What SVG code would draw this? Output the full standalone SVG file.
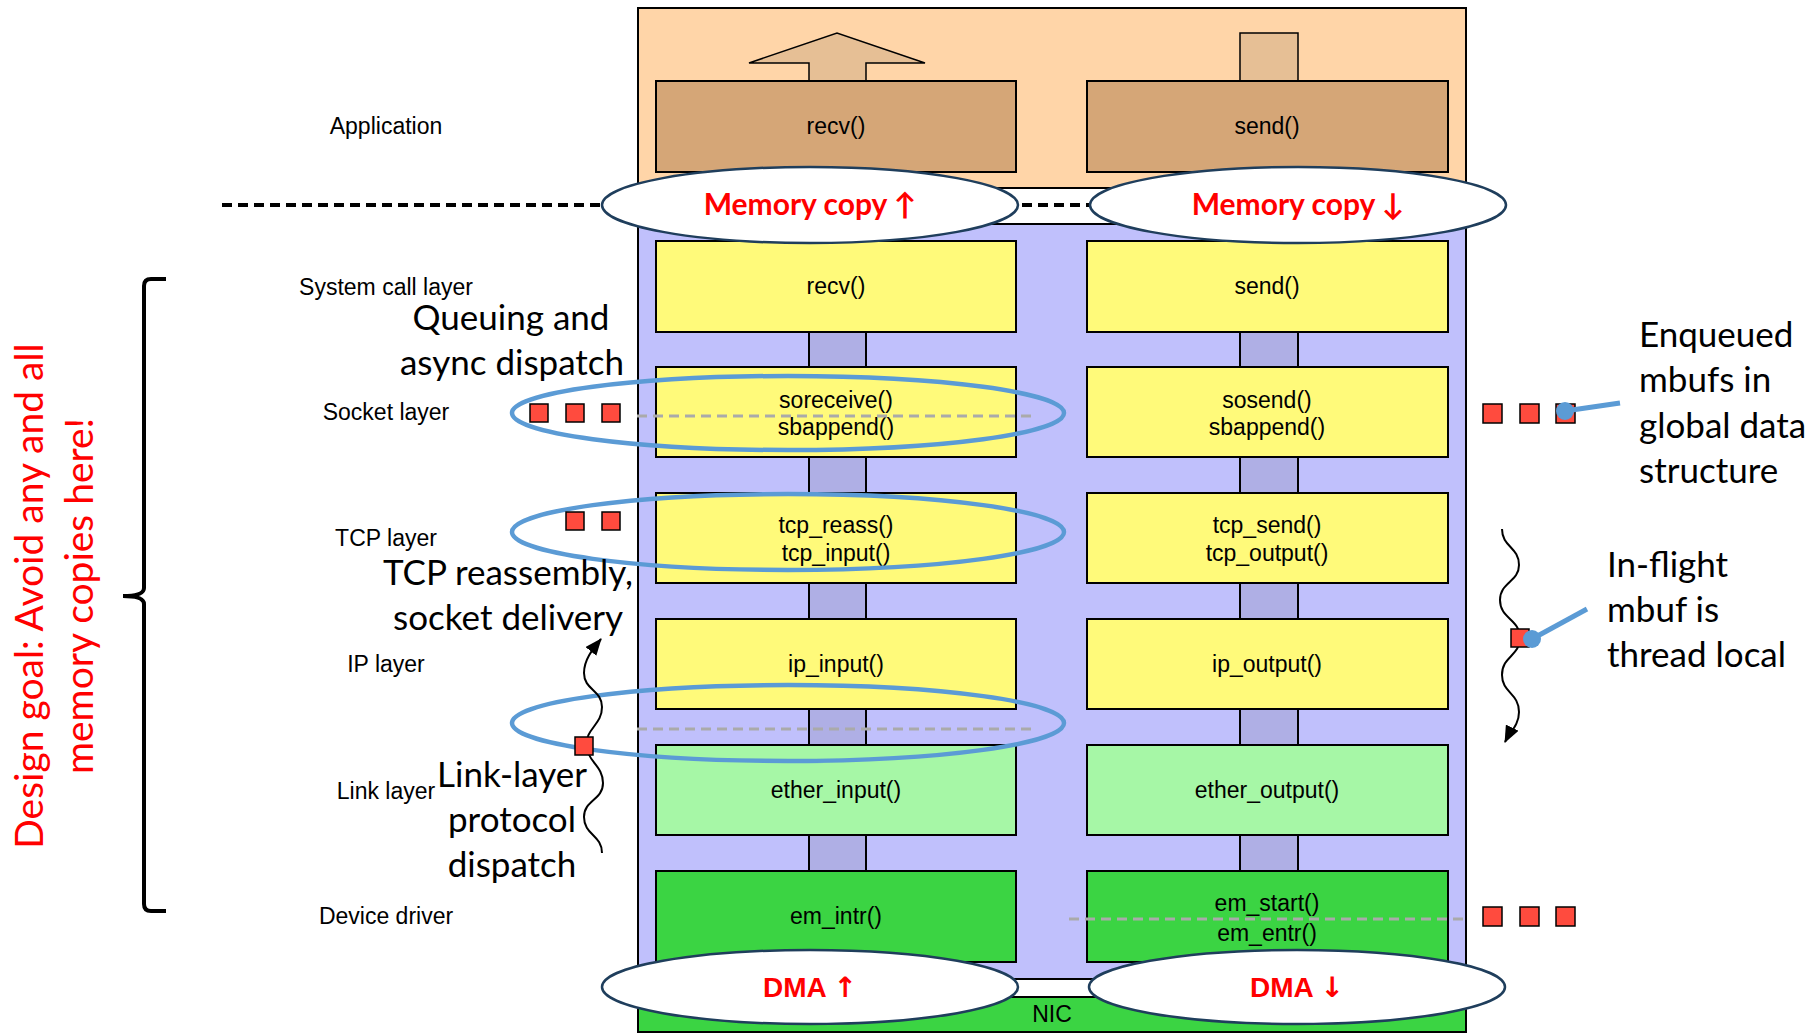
<svg xmlns="http://www.w3.org/2000/svg" width="1818" height="1034" viewBox="0 0 1818 1034">
<defs>
<style>
.frame{stroke:#000;stroke-width:2}
.box{stroke:#000;stroke-width:2}
.app{fill:#D5A677}
.yel{fill:#FFFA7A}
.lg{fill:#A6F7A6}
.dg{fill:#3BD443}
.bar{fill:#AFAFE5;stroke:#000;stroke-width:2}
.fn{font-family:"Liberation Sans",Arial,sans-serif;font-size:23px;fill:#000;text-anchor:middle}
.lay{font-family:"Liberation Sans",Arial,sans-serif;font-size:23px;fill:#000;text-anchor:middle}
.ann{font-family:Lato,"Open Sans",sans-serif;font-size:35px;fill:#000}
.mid{text-anchor:middle}
.copy{font-family:Lato,"DejaVu Sans",sans-serif;font-size:30px;font-weight:bold;fill:#FF0000;text-anchor:middle}
.dma{font-family:"Liberation Sans",Arial,"DejaVu Sans",sans-serif;font-size:28px;font-weight:bold;fill:#FF0000;text-anchor:middle}
.arr{font-family:"DejaVu Sans",sans-serif;font-weight:bold}
.oval{fill:#fff;stroke:#1F3E5C;stroke-width:2.5}
.blue{fill:none;stroke:#5B9BD5;stroke-width:4.5}
.sq{fill:#FF4B3E;stroke:#000;stroke-width:1.5}
.gdash{stroke:#AAAAAA;stroke-width:3;stroke-dasharray:10 6;fill:none}
.wave{fill:none;stroke:#000;stroke-width:2}
.pin{stroke:#5B9BD5;stroke-width:5;fill:none}
.goal{font-family:Lato,"Open Sans",sans-serif;font-size:39px;fill:#FF0000;text-anchor:middle}
</style>
<marker id="ah" markerUnits="userSpaceOnUse" markerWidth="18" markerHeight="14" refX="16" refY="7" orient="auto">
<path d="M0,0 L17,7 L0,14 z" fill="#000"/>
</marker>
</defs>
<rect width="1818" height="1034" fill="#fff"/>

<g id="frame">
<rect class="frame" x="638" y="8" width="828" height="180" fill="#FFD5A8"/>
<rect class="frame" x="638" y="188" width="828" height="36" fill="#fff"/>
<rect class="frame" x="638" y="224" width="828" height="755" fill="#C0C0FC"/>
<rect class="frame" x="638" y="979" width="828" height="18" fill="#fff"/>
</g>
<g id="nic">
<rect class="frame" x="638" y="997" width="828" height="35" fill="#3BD443"/>
<text class="fn" x="1052" y="1022">NIC</text>
</g>

<g id="app-up-arrow">
<polygon points="809,81 809,63 749,63 837,33 925,63 866,63 866,81" fill="#E6BF95" stroke="#000" stroke-width="1.5"/>
</g>
<g id="app-send-stem">
<rect x="1240" y="33" width="58" height="48" fill="#E6BF95" stroke="#000" stroke-width="1.5"/>
</g>

<g id="connectors">
<rect class="bar" x="809" y="332" width="57" height="35"/>
<rect class="bar" x="809" y="457" width="57" height="36"/>
<rect class="bar" x="809" y="583" width="57" height="36"/>
<rect class="bar" x="809" y="709" width="57" height="36"/>
<rect class="bar" x="809" y="835" width="57" height="36"/>
<rect class="bar" x="1240" y="332" width="58" height="35"/>
<rect class="bar" x="1240" y="457" width="58" height="36"/>
<rect class="bar" x="1240" y="583" width="58" height="36"/>
<rect class="bar" x="1240" y="709" width="58" height="36"/>
<rect class="bar" x="1240" y="835" width="58" height="36"/>
</g>

<g id="app-recv"><rect class="box app" x="656" y="81" width="360" height="91"/><text class="fn" x="836" y="134">recv()</text></g>
<g id="app-send"><rect class="box app" x="1087" y="81" width="361" height="91"/><text class="fn" x="1267" y="134">send()</text></g>

<g id="sys-recv"><rect class="box yel" x="656" y="241" width="360" height="91"/><text class="fn" x="836" y="294">recv()</text></g>
<g id="sys-send"><rect class="box yel" x="1087" y="241" width="361" height="91"/><text class="fn" x="1267" y="294">send()</text></g>

<g id="sock-recv"><rect class="box yel" x="656" y="367" width="360" height="90"/><text class="fn" x="836" y="408">soreceive()</text><text class="fn" x="836" y="435">sbappend()</text></g>
<g id="sock-send"><rect class="box yel" x="1087" y="367" width="361" height="90"/><text class="fn" x="1267" y="408">sosend()</text><text class="fn" x="1267" y="435">sbappend()</text></g>

<g id="tcp-recv"><rect class="box yel" x="656" y="493" width="360" height="90"/><text class="fn" x="836" y="533">tcp_reass()</text><text class="fn" x="836" y="561">tcp_input()</text></g>
<g id="tcp-send"><rect class="box yel" x="1087" y="493" width="361" height="90"/><text class="fn" x="1267" y="533">tcp_send()</text><text class="fn" x="1267" y="561">tcp_output()</text></g>

<g id="ip-recv"><rect class="box yel" x="656" y="619" width="360" height="90"/><text class="fn" x="836" y="672">ip_input()</text></g>
<g id="ip-send"><rect class="box yel" x="1087" y="619" width="361" height="90"/><text class="fn" x="1267" y="672">ip_output()</text></g>

<g id="link-recv"><rect class="box lg" x="656" y="745" width="360" height="90"/><text class="fn" x="836" y="798">ether_input()</text></g>
<g id="link-send"><rect class="box lg" x="1087" y="745" width="361" height="90"/><text class="fn" x="1267" y="798">ether_output()</text></g>

<g id="drv-recv"><rect class="box dg" x="656" y="871" width="360" height="91"/><text class="fn" x="836" y="924">em_intr()</text></g>
<g id="drv-send"><rect class="box dg" x="1087" y="871" width="361" height="91"/><text class="fn" x="1267" y="911">em_start()</text><text class="fn" x="1267" y="941">em_entr()</text></g>

<g id="queue-lines">
<line class="gdash" x1="637" y1="416" x2="1031" y2="416"/>
<line class="gdash" x1="637" y1="729" x2="1031" y2="729"/>
<line class="gdash" x1="1069" y1="919" x2="1463" y2="919"/>
<line x1="222" y1="205" x2="1100" y2="205" stroke="#000" stroke-width="4" stroke-dasharray="10 6"/>
</g>

<g id="memcopy-up"><ellipse class="oval" cx="810" cy="205" rx="208" ry="38"/><text class="copy" x="810" y="215">Memory copy ↑</text></g>
<g id="memcopy-down"><ellipse class="oval" cx="1298" cy="205" rx="208" ry="38"/><text class="copy" x="1298" y="215">Memory copy ↓</text></g>
<g id="dma-up"><ellipse class="oval" cx="810" cy="987" rx="208" ry="37"/><text class="dma" x="810" y="997">DMA <tspan class="arr">↑</tspan></text></g>
<g id="dma-down"><ellipse class="oval" cx="1297" cy="987" rx="208" ry="37"/><text class="dma" x="1297" y="997">DMA <tspan class="arr">↓</tspan></text></g>

<g id="focus-ovals">
<ellipse class="blue" cx="788" cy="413" rx="276" ry="37"/>
<ellipse class="blue" cx="788" cy="532" rx="276" ry="38"/>
<ellipse class="blue" cx="788" cy="723" rx="276" ry="38"/>
</g>

<g id="mbufs">
<rect class="sq" x="530" y="404" width="18" height="18"/>
<rect class="sq" x="566" y="404" width="18" height="18"/>
<rect class="sq" x="602" y="404" width="18" height="18"/>
<rect class="sq" x="566" y="512" width="18" height="18"/>
<rect class="sq" x="602" y="512" width="18" height="18"/>
<rect class="sq" x="1483" y="404" width="19" height="19"/>
<rect class="sq" x="1520" y="404" width="19" height="19"/>
<rect class="sq" x="1556" y="404" width="19" height="19"/>
<rect class="sq" x="1483" y="907" width="19" height="19"/>
<rect class="sq" x="1520" y="907" width="19" height="19"/>
<rect class="sq" x="1556" y="907" width="19" height="19"/>
</g>

<g id="threads">
<path class="wave" d="M602,853 C602,835 584,835 584,817 C584,800 603,800 603,783 C603,766 588,762 586,746 C586,728 602,725 602,707 C602,690 584,690 584,673 C584,660 592,650 601,639" marker-end="url(#ah)"/>
<rect class="sq" x="575" y="737" width="18" height="18"/>
<path class="wave" d="M1502,529 C1502,547 1519,547 1519,565 C1519,582 1500,582 1500,600 C1500,619 1520,619 1520,638 C1520,656 1502,656 1502,675 C1502,693 1519,693 1519,712 C1519,725 1510,732 1505,742" marker-end="url(#ah)"/>
<rect class="sq" x="1511" y="629" width="18" height="18"/>
<line class="pin" x1="1565" y1="411" x2="1620" y2="403"/>
<circle cx="1565" cy="411" r="9" fill="#5B9BD5"/>
<line class="pin" x1="1532" y1="639" x2="1587" y2="609"/>
<circle cx="1532" cy="639" r="9" fill="#5B9BD5"/>
</g>

<g id="layer-labels">
<text class="lay" x="386" y="134">Application</text>
<text class="lay" x="386" y="295">System call layer</text>
<text class="lay" x="386" y="420">Socket layer</text>
<text class="lay" x="386" y="546">TCP layer</text>
<text class="lay" x="386" y="672">IP layer</text>
<text class="lay" x="386" y="799">Link layer</text>
<text class="lay" x="386" y="924">Device driver</text>
</g>

<g id="annotations">
<text class="ann mid" x="511" y="330">Queuing and</text>
<text class="ann mid" x="512" y="375">async dispatch</text>
<text class="ann mid" x="508" y="585" font-size="34">TCP reassembly,</text>
<text class="ann mid" x="508" y="630">socket delivery</text>
<text class="ann mid" x="512" y="787">Link-layer</text>
<text class="ann mid" x="512" y="832">protocol</text>
<text class="ann mid" x="512" y="877">dispatch</text>
<text class="ann" x="1639" y="347">Enqueued</text>
<text class="ann" x="1639" y="392">mbufs in</text>
<text class="ann" x="1639" y="438">global data</text>
<text class="ann" x="1639" y="483">structure</text>
<text class="ann" x="1607" y="577">In-flight</text>
<text class="ann" x="1607" y="622">mbuf is</text>
<text class="ann" x="1607" y="667">thread local</text>
</g>

<g id="design-goal">
<path d="M166,279 L151,279 Q144,279 144,286 L144,588 Q144,596 123,596 Q144,596 144,604 L144,904 Q144,911 151,911 L166,911" fill="none" stroke="#000" stroke-width="4"/>
<text class="goal" transform="translate(43,596) rotate(-90)">Design goal: Avoid any and all</text>
<text class="goal" transform="translate(93,596) rotate(-90)" font-size="41">memory copies here!</text>
</g>
</svg>
